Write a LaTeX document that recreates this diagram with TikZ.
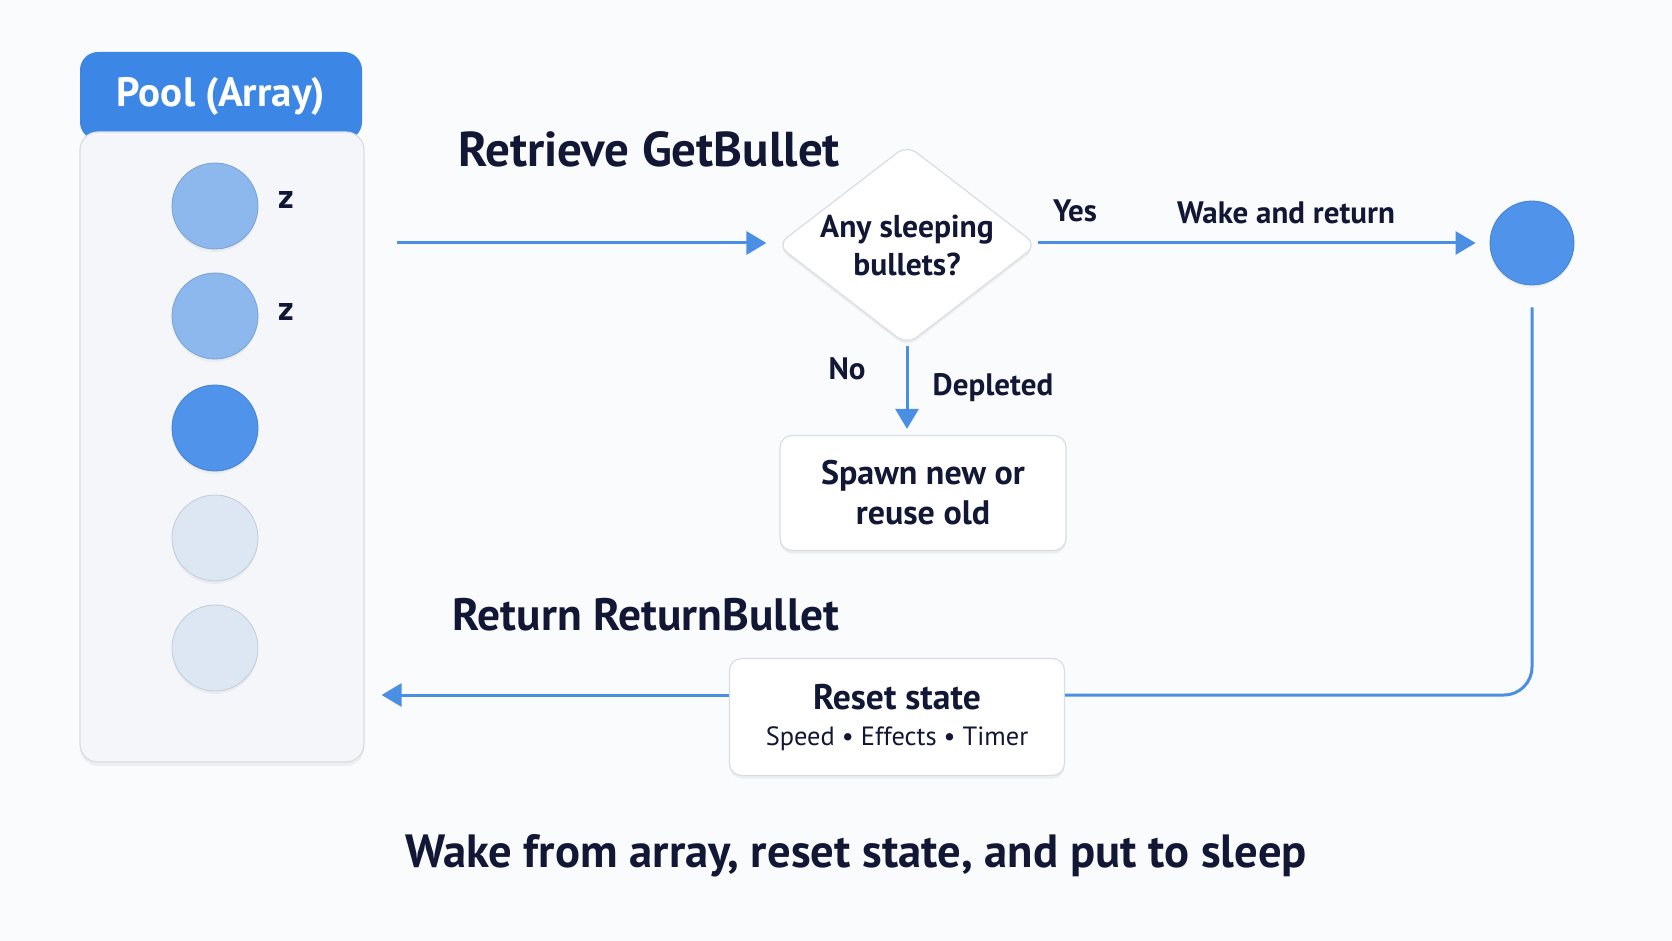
\documentclass[tikz,border=0pt]{standalone}
\usepackage{fontspec}
\setmainfont{PT Sans}
\usetikzlibrary{shapes.geometric, arrows.meta, shadows, positioning}
\definecolor{ink}{HTML}{121735}
\definecolor{flowblue}{HTML}{4A8FE3}
\definecolor{headblue}{HTML}{3C87E6}
\definecolor{sleepblue}{HTML}{8CB8EE}
\definecolor{awakeblue}{HTML}{4F94EA}
\definecolor{freeblue}{HTML}{DDE7F4}
\definecolor{panelgray}{HTML}{F4F6F9}
\definecolor{edgegray}{HTML}{D9DDE3}
\definecolor{paper}{HTML}{FAFBFC}
\tikzset{every path/.style={semithick}}
\tikzset{
  flow/.style={draw=flowblue, line width=1.5pt, -{Triangle[length=10pt,width=11.5pt]}},
  card/.style={draw=edgegray, fill=white, rounded corners=6pt, align=center, text=ink,
    drop shadow={shadow xshift=0pt, shadow yshift=-1.5pt, opacity=0.10}},
  ball/.style={circle, minimum size=43pt, inner sep=0pt, fill=#1, draw=#1!88!black, line width=0.4pt,
    drop shadow={shadow xshift=0pt, shadow yshift=-1.5pt, opacity=0.08}},
  heading/.style={text=ink, font=\bfseries\fontsize{23.3}{27}\selectfont},
  tag/.style={text=ink, font=\bfseries\fontsize{15.5}{18}\selectfont},
}

\begin{document}
\begin{tikzpicture}[x=0.5pt, y=-0.5pt]
    \useasboundingbox[fill=paper] (0,0) rectangle (1672,941);

    % Pool

    \node[fill=headblue, rounded corners=9pt, minimum width=141pt, minimum height=44pt, text=white,
      font=\bfseries\fontsize{20.5}{24}\selectfont] (head) at (221,96) {Pool (Array)};
    \node[fill=panelgray, draw=edgegray, rounded corners=9pt, minimum width=142pt, minimum height=315pt,
      drop shadow={shadow xshift=0pt, shadow yshift=-2pt, opacity=0.10}] (pool) at (222,447) {};
    \foreach \y/\c [count=\i] in {206/sleepblue, 316/sleepblue, 428/awakeblue, 538/freeblue, 648/freeblue}
      \node[ball=\c] (b\i) at (215,\y) {};
    \node[tag, font=\bfseries\fontsize{17}{20}\selectfont] (z1) at (286,200) {z};
    \node[tag, font=\bfseries\fontsize{17}{20}\selectfont] (z2) at (286,312) {z};

    % Retrieve

    \node[heading, font=\bfseries\fontsize{24.5}{28}\selectfont] (get) at (649,149) {Retrieve GetBullet};
    \coordinate (in) at (397,243);
    \node[card, diamond, aspect=1.3, inner sep=0pt, minimum width=130pt, minimum height=100pt,
      font=\bfseries\fontsize{15.8}{19}\selectfont] (ask) at (907,245) {Any sleeping\\bullets?};
    \node[ball=awakeblue, minimum size=42pt] (out) at (1532,243) {};
    \draw[flow, shorten >=5pt] (in) -- (in -| ask.west);
    \draw[flow, shorten >=7pt] (ask.east |- out) -- (out.west);
    \node[tag] (yes) at (1075,211) {Yes};
    \node[tag] (wake) at (1286,213) {Wake and return};

    \node[card, minimum width=143pt, minimum height=57.5pt,
      font=\bfseries\fontsize{17}{20}\selectfont] (spawn) at (923,493) {Spawn new or\\reuse old};
    \draw[flow, shorten >=3pt] (ask.south) -- (ask.south |- spawn.north);
    \node[tag] (no) at (847,369) {No};
    \node[tag] (dep) at (993,388) {Depleted};

    % Return

    \node[heading, font=\bfseries\fontsize{22.7}{27}\selectfont] (ret) at (646,615) {Return ReturnBullet};
    \node[card, minimum width=167.5pt, minimum height=58.5pt] (reset) at (897,717)
      {{\bfseries\fontsize{17.8}{20}\selectfont Reset state}\\[6pt]{\fontsize{13.2}{15}\selectfont Speed • Effects • Timer}};
    \draw[flow, -, rounded corners=14pt, shorten <=11pt] (out.south) |- ([yshift=11pt]reset.east);
    \draw[flow, shorten >=8.5pt] ([yshift=11pt]reset.west) -- ([yshift=11pt]reset.west -| pool.east);

    \node[heading] (cap) at (856,856) {Wake from array, reset state, and put to sleep};
\end{tikzpicture}
\end{document}
